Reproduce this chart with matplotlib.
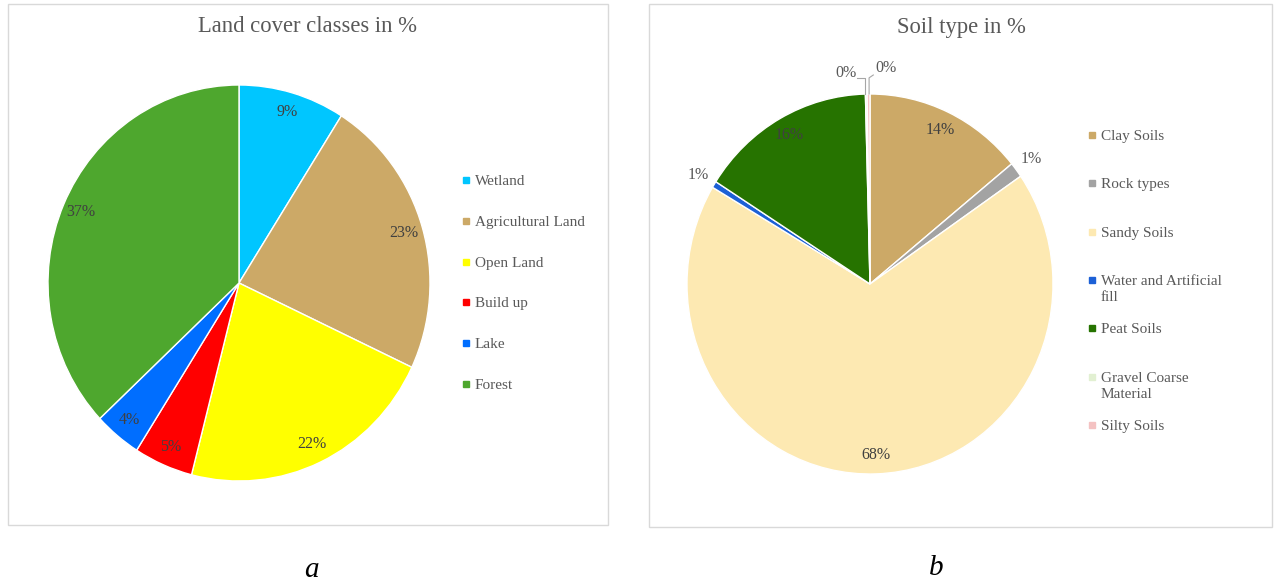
import numpy as np
import matplotlib.pyplot as plt
from matplotlib.patches import Rectangle
from matplotlib.lines import Line2D

plt.rcParams['font.family'] = ['Liberation Serif', 'DejaVu Serif']

# data
land_classes = ['Wetland', 'Agricultural Land', 'Open Land', 'Build up', 'Lake', 'Forest']
land_share = [9, 23, 22, 5, 4, 37]
land_colors = ['#00c6ff', '#cca967', '#ffff00', '#ff0000', '#006eff', '#4ea72e']

soil_types = ['Clay Soils', 'Rock types', 'Sandy Soils', 'Water and Artificial\nfill',
              'Peat Soils', 'Gravel Coarse\nMaterial', 'Silty Soils']
soil_share = [14.1, 1.3, 68.1, 0.55, 15.55, 0.15, 0.25]
soil_colors = ['#cca967', '#a3a3a3', '#fde9b2', '#1c60d6', '#267300', '#e2f0d2', '#f4c2c2']

W, H = 1276, 582
fig = plt.figure(figsize=(W / 100, H / 100), dpi=100)
fig.patch.set_facecolor('white')

def fx(x):
    return x / W

def fy(y):
    return 1 - y / H

# panel frames
for x0, y0, x1, y1 in [(8, 4, 608, 525), (649, 4, 1272, 527)]:
    fig.add_artist(Rectangle((fx(x0), fy(y1)), (x1 - x0) / W, (y1 - y0) / H,
                             transform=fig.transFigure, fill=False,
                             edgecolor='#d9d9d9', linewidth=1))

def draw_pie(cx, cy, rx, ry, share, colors):
    ax = fig.add_axes([fx(cx - rx), fy(cy + ry), 2 * rx / W, 2 * ry / H])
    wedges, _, pcts = ax.pie(share, colors=colors, startangle=90, counterclock=False,
                             autopct='%.0f%%', pctdistance=0.9,
                             wedgeprops=dict(edgecolor='white', linewidth=1),
                             textprops=dict(color='#404040', fontsize=11.5))
    ax.set_aspect('auto')
    ax.set_xlim(-1, 1)
    ax.set_ylim(-1, 1)
    for w in wedges:
        w.set_clip_on(False)
    return ax, wedges, pcts

def draw_legend(names, colors, x_mark, y_first, step):
    # marker sits on the first line of each entry
    for i, (name, c) in enumerate(zip(names, colors)):
        y = y_first + i * step
        fig.add_artist(Line2D([fx(x_mark)], [fy(y)], marker='s', markersize=5,
                              color=c, linestyle='none', transform=fig.transFigure))
        fig.text(fx(x_mark + 9), fy(y - 5), name, fontsize=11, color='#595959',
                 ha='left', va='top', linespacing=1.35)

# a: land cover
ax1, w1, p1 = draw_pie(239, 283, 191, 198, land_share, land_colors)
fig.text(fx(308), fy(27), 'Land cover classes in %', fontsize=16.3, color='#595959',
         ha='center', va='center')
draw_legend(land_classes, land_colors, 466, 180, 40.8)

# b: soil type
ax2, w2, p2 = draw_pie(870, 284, 183, 190, soil_share, soil_colors)
fig.text(fx(961), fy(27), 'Soil type in %', fontsize=16.3, color='#595959',
         ha='center', va='center')
draw_legend(soil_types, soil_colors, 1092, 135, 48.3)

# small slices: labels outside
for i in [1, 3]:
    mid = np.deg2rad((w2[i].theta1 + w2[i].theta2) / 2)
    p2[i].set_position((1.1 * np.cos(mid), 1.1 * np.sin(mid)))
    p2[i].set_color('#595959')

# 0% labels with leader lines
p2[5].set_position((-0.13, 1.11))
p2[6].set_position((0.085, 1.135))
for i in [5, 6]:
    p2[i].set_color('#595959')
ax2.plot([-0.027, -0.027, -0.07], [1.0, 1.085, 1.085], color='#a6a6a6',
         linewidth=0.8, clip_on=False)
ax2.plot([-0.005, -0.005, 0.018], [1.0, 1.085, 1.1], color='#a6a6a6',
         linewidth=0.8, clip_on=False)

fig.text(fx(311), fy(570), 'a', fontsize=21, style='italic', ha='center', va='center')
fig.text(fx(936), fy(568), 'b', fontsize=21, style='italic', ha='center', va='center')

fig.savefig('out.png', dpi=100)
